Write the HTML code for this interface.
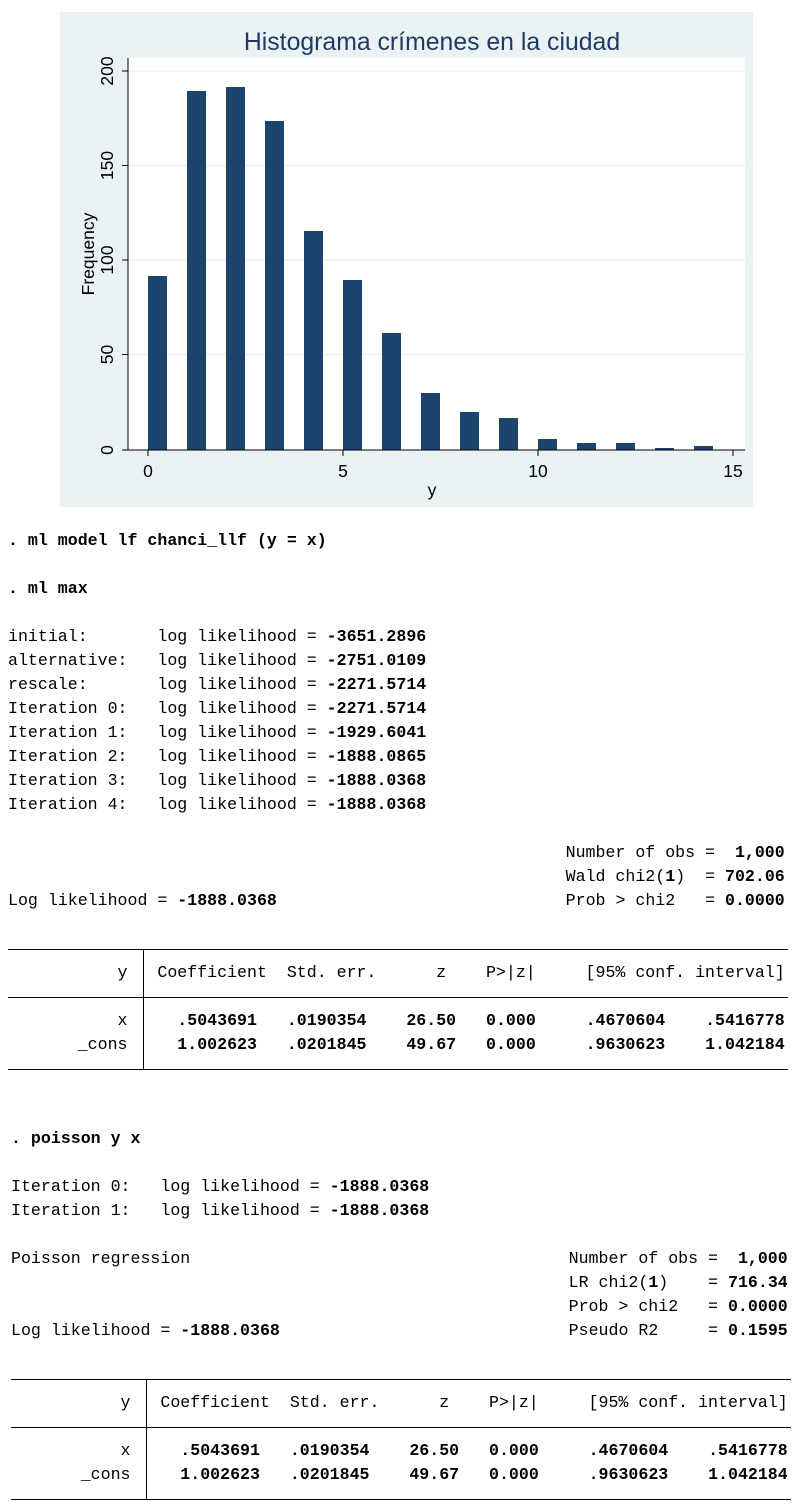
<!DOCTYPE html>
<html><head><meta charset="utf-8"><style>
body{margin:0;width:808px;height:1508px;background:#fff;position:relative;overflow:hidden}
pre{position:absolute;margin:0;font-family:"Liberation Mono",monospace;font-size:16.6px;line-height:24px;color:#000}
b{font-weight:bold}
.hl{position:absolute;height:1px;background:#000}
.vl{position:absolute;width:1px;background:#000}
</style></head><body>
<svg style="position:absolute;left:0;top:0" width="808" height="520">
<rect x="60" y="12" width="693" height="495" fill="#eaf2f3"/>
<rect x="128" y="58" width="617" height="392" fill="#fff"/>
<g stroke="#eaf2f3" stroke-width="1.5">
<line x1="128" x2="745" y1="71" y2="71"/><line x1="128" x2="745" y1="165.5" y2="165.5"/>
<line x1="128" x2="745" y1="260" y2="260"/><line x1="128" x2="745" y1="354.5" y2="354.5"/>
</g>
<text x="432" y="50" font-family="Liberation Sans,sans-serif" font-size="24.8" fill="#1e3a5f" text-anchor="middle">Histograma crímenes en la ciudad</text>
<g fill="#1c456d">
<rect x="148" y="276" width="19" height="174"/>
<rect x="187" y="91" width="19" height="359"/>
<rect x="226" y="87" width="19" height="363"/>
<rect x="265" y="121" width="19" height="329"/>
<rect x="304" y="231" width="19" height="219"/>
<rect x="343" y="280" width="19" height="170"/>
<rect x="382" y="333" width="19" height="117"/>
<rect x="421" y="393" width="19" height="57"/>
<rect x="460" y="412" width="19" height="38"/>
<rect x="499" y="418" width="19" height="32"/>
<rect x="538" y="439" width="19" height="11"/>
<rect x="577" y="443" width="19" height="7"/>
<rect x="616" y="443" width="19" height="7"/>
<rect x="655" y="448" width="19" height="2"/>
<rect x="694" y="446" width="19" height="4"/>
</g>
<g stroke="#000" stroke-width="1">
<line x1="128" x2="128" y1="58" y2="450"/><line x1="128" x2="745" y1="450" y2="450"/>
<line x1="122" x2="128" y1="71" y2="71"/><line x1="122" x2="128" y1="165.5" y2="165.5"/>
<line x1="122" x2="128" y1="260" y2="260"/><line x1="122" x2="128" y1="354.5" y2="354.5"/><line x1="122" x2="128" y1="450" y2="450"/>
<line x1="148" x2="148" y1="450" y2="456"/><line x1="343" x2="343" y1="450" y2="456"/>
<line x1="538" x2="538" y1="450" y2="456"/><line x1="733" x2="733" y1="450" y2="456"/>
</g>
<g font-family="Liberation Sans,sans-serif" font-size="17.5" fill="#000" text-anchor="middle">
<text x="148" y="477">0</text><text x="343" y="477">5</text><text x="538" y="477">10</text><text x="733" y="477">15</text>
<text x="432" y="496">y</text>
<text transform="translate(113,71) rotate(-90)">200</text>
<text transform="translate(113,165.5) rotate(-90)">150</text>
<text transform="translate(113,260) rotate(-90)">100</text>
<text transform="translate(113,354.5) rotate(-90)">50</text>
<text transform="translate(113,450) rotate(-90)">0</text>
<text transform="translate(94,254) rotate(-90)">Frequency</text>
</g>
</svg>
<pre style="left:8px;top:529px"><b>. ml model lf chanci_llf (y = x)</b>

<b>. ml max</b>

initial:       log likelihood = <b>-3651.2896</b>
alternative:   log likelihood = <b>-2751.0109</b>
rescale:       log likelihood = <b>-2271.5714</b>
Iteration 0:   log likelihood = <b>-2271.5714</b>
Iteration 1:   log likelihood = <b>-1929.6041</b>
Iteration 2:   log likelihood = <b>-1888.0865</b>
Iteration 3:   log likelihood = <b>-1888.0368</b>
Iteration 4:   log likelihood = <b>-1888.0368</b>

                                                        Number of obs =  <b>1,000</b>
                                                        Wald chi2(<b>1</b>)  = <b>702.06</b>
Log likelihood = <b>-1888.0368</b>                             Prob &gt; chi2   = <b>0.0000</b>

                                                                              
           y   Coefficient  Std. err.      z    P&gt;|z|     [95% conf. interval]

           x     <b>.5043691   .0190354    26.50   0.000     .4670604    .5416778</b>
       _cons     <b>1.002623   .0201845    49.67   0.000     .9630623    1.042184</b></pre>
<div class="hl" style="left:8px;width:780px;top:949px"></div>
<div class="hl" style="left:8px;width:780px;top:997px"></div>
<div class="hl" style="left:8px;width:780px;top:1069px"></div>
<div class="vl" style="left:143px;top:949px;height:120px"></div>
<pre style="left:11px;top:1127px"><b>. poisson y x</b>

Iteration 0:   log likelihood = <b>-1888.0368</b>
Iteration 1:   log likelihood = <b>-1888.0368</b>

Poisson regression                                      Number of obs =  <b>1,000</b>
                                                        LR chi2(<b>1</b>)    = <b>716.34</b>
                                                        Prob &gt; chi2   = <b>0.0000</b>
Log likelihood = <b>-1888.0368</b>                             Pseudo R2     = <b>0.1595</b>

                                                                              
           y   Coefficient  Std. err.      z    P&gt;|z|     [95% conf. interval]

           x     <b>.5043691   .0190354    26.50   0.000     .4670604    .5416778</b>
       _cons     <b>1.002623   .0201845    49.67   0.000     .9630623    1.042184</b></pre>
<div class="hl" style="left:11px;width:780px;top:1379px"></div>
<div class="hl" style="left:11px;width:780px;top:1427px"></div>
<div class="hl" style="left:11px;width:780px;top:1499px"></div>
<div class="vl" style="left:146px;top:1379px;height:120px"></div>
</body></html>
